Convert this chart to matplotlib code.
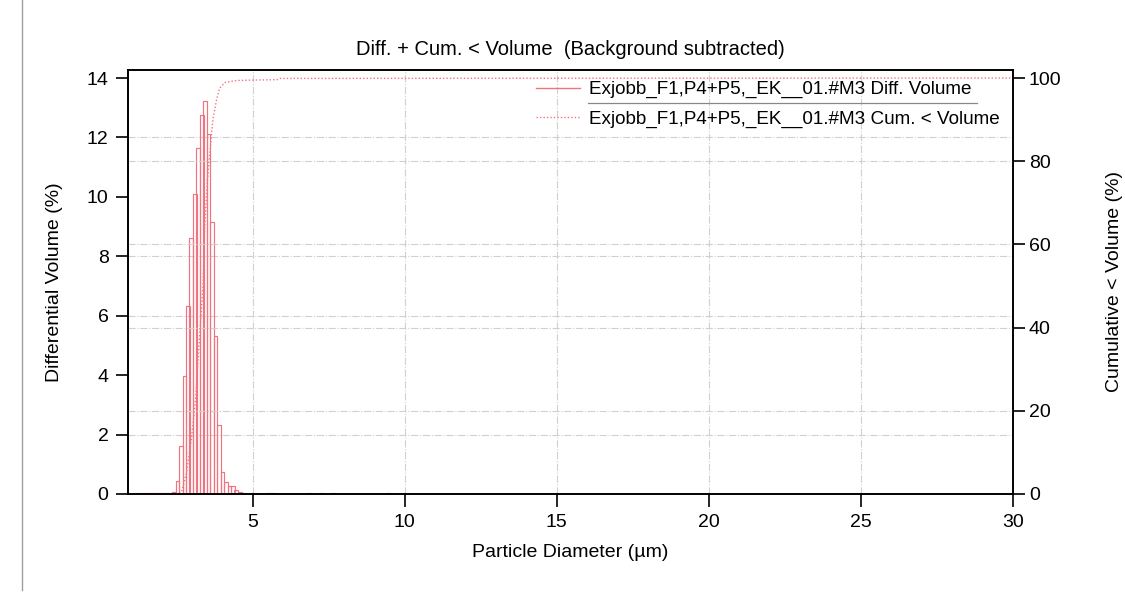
import matplotlib.pyplot as plt
from matplotlib.lines import Line2D

plt.rcParams['font.family'] = ['Liberation Sans', 'DejaVu Sans']

# Differential volume per channel (lower channel edge in um, % volume)
diameter = [1.12, 1.23, 1.35, 1.46, 1.57, 1.68, 1.80, 1.91, 2.02, 2.13, 2.25,
            2.36, 2.47, 2.58, 2.70, 2.81, 2.92, 3.04, 3.15, 3.27, 3.38, 3.49,
            3.61, 3.72, 3.84, 3.95, 4.06, 4.18, 4.29, 4.40, 4.52, 4.63, 4.92,
            5.43, 5.55, 5.66, 6.80, 7.20, 7.58, 9.40]
diff_volume = [0.03, 0.03, 0.04, 0.03, 0.03, 0.04, 0.03, 0.04, 0.03, 0.04, 0.05,
               0.08, 0.45, 1.63, 3.98, 6.34, 8.61, 10.09, 11.64, 12.76, 13.24, 12.13,
               9.15, 5.31, 2.32, 0.75, 0.39, 0.26, 0.26, 0.14, 0.07, 0.04, 0.04,
               0.04, 0.05, 0.04, 0.04, 0.04, 0.04, 0.05]
channel_width = 0.112

# Cumulative < volume curve
cum_diameter = [1.0, 2.45, 2.65, 2.82, 2.98, 3.12, 3.23, 3.37, 3.42, 3.51, 3.61,
                3.69, 3.81, 3.91, 4.08, 4.46, 5.0, 5.8, 5.9, 30.0]
cum_volume = [0.0, 0.0, 0.2, 5.0, 13.0, 22.6, 35.4, 50.5, 64.0, 75.5, 83.5,
              90.0, 94.7, 97.5, 98.9, 99.4, 99.5, 99.6, 99.9, 100.0]

sample = 'Exjobb_F1,P4+P5,_EK__01.#M3'
red = '#f07480'
grid_color = '#d0d0d0'

fig = plt.figure(figsize=(11.25, 6.08), dpi=100)
ax = fig.add_axes([0.1138, 0.1875, 0.7866, 0.6974])
ax2 = ax.twinx()

ymax = 14.27
ax.set_xlim(0.9, 30)
ax.set_ylim(0, ymax)
ax2.set_ylim(0, ymax * 100 / 14)

# dash-dot grid
for x in [5, 10, 15, 20, 25]:
    ax.axvline(x, color=grid_color, lw=0.8, ls='-.', zorder=0)
for y in [2, 6, 8, 12]:
    ax.axhline(y, color=grid_color, lw=0.8, ls='-.', zorder=0)
for y in [20, 40, 60, 80]:
    ax2.axhline(y, color=grid_color, lw=0.8, ls='-.', zorder=0)

ax.bar(diameter, diff_volume, width=channel_width, align='edge',
       facecolor='none', edgecolor=red, linewidth=0.85)
ax2.plot(cum_diameter, cum_volume, color=red, lw=1.0, ls=(0, (1, 1.5)))

ax.set_xticks([5, 10, 15, 20, 25, 30])
ax.set_yticks(range(0, 15, 2))
ax2.set_yticks(range(0, 101, 20))

for a in (ax, ax2):
    for s in a.spines.values():
        s.set_linewidth(1.2)
ax.tick_params(axis='x', direction='out', length=9.5, width=1.2, pad=5, labelsize=14)
ax.tick_params(axis='y', direction='out', length=9, width=1.2, pad=5, labelsize=14)
ax2.tick_params(axis='y', direction='out', length=8.5, width=1.2, pad=3, labelsize=14)

ax.set_xlabel('Particle Diameter (µm)', fontsize=14, labelpad=9)
ax.set_ylabel('Differential Volume (%)', fontsize=14, labelpad=17)
ax2.set_ylabel('Cumulative < Volume (%)', fontsize=14, labelpad=32)
ax.set_title('Diff. + Cum. < Volume  (Background subtracted)', fontsize=14.5, pad=11)

handles = [Line2D([], [], color=red, lw=1.0),
           Line2D([], [], color=red, lw=1.0, ls=(0, (1, 1.5)))]
labels = [sample + ' Diff. Volume', sample + ' Cum. < Volume']
ax2.legend(handles, labels, loc='upper right', bbox_to_anchor=(1.0, 1.005),
           frameon=False, fontsize=13.6, handlelength=2.3, handletextpad=0.5,
           labelspacing=0.65, borderpad=0.2)
# underline under the active trace
ax2.plot([0.5198, 0.9593], [0.922, 0.922], transform=ax2.transAxes,
         color='#888888', lw=0.9, clip_on=False)

# page border on the left
fig.add_artist(Line2D([22 / 1125, 22 / 1125], [1, 18 / 608],
                      transform=fig.transFigure, color='#a0a0a0', lw=1.0))

fig.savefig('out.png', dpi=100)
